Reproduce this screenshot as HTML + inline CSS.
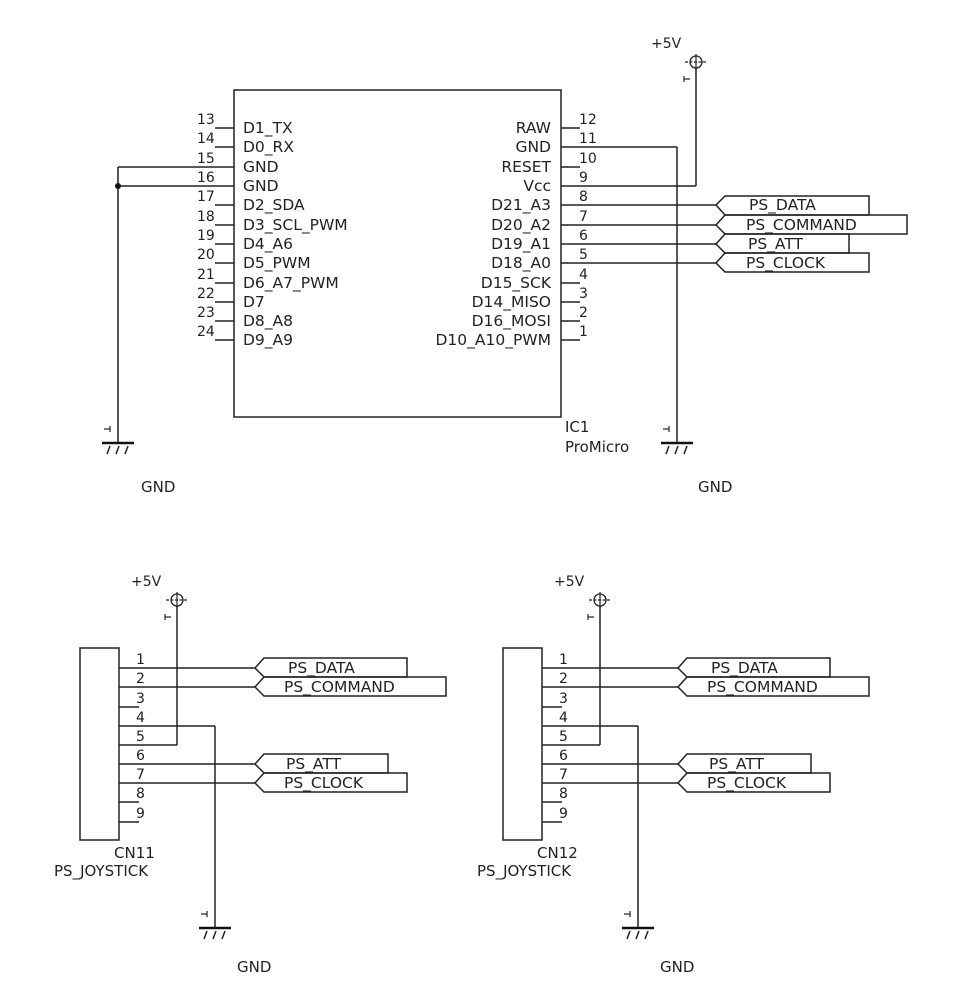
<!DOCTYPE html>
<html><head><meta charset="utf-8"><style>
html,body{margin:0;padding:0;background:#fff;}
svg{display:block;}
text{font-family:"DejaVu Sans","Liberation Sans",sans-serif;font-size:15.5px;fill:#222;}
.n{font-size:14px;}
.m{font-size:15px;}
</style></head><body>
<svg width="954" height="988" viewBox="0 0 954 988" xmlns="http://www.w3.org/2000/svg">
<defs>
<g id="gnd">
<line x1="0" y1="-12" x2="0" y2="0" stroke="#222" stroke-width="1.5"/>
<line x1="-16" y1="0" x2="16" y2="0" stroke="#111" stroke-width="2.5"/>
<path d="M-8,3 L-11,11 M1,3 L-2,11 M10,3 L7,11" stroke="#222" stroke-width="1.5" fill="none"/>
<line x1="-14" y1="-14" x2="-8" y2="-14" stroke="#333" stroke-width="1.3"/>
<line x1="-8" y1="-17" x2="-8" y2="-11" stroke="#333" stroke-width="1.3"/>
</g>
<g id="vcc">
<circle cx="0" cy="0" r="6" fill="none" stroke="#222" stroke-width="1.3"/>
<line x1="-11" y1="0" x2="11" y2="0" stroke="#222" stroke-width="1.2" stroke-dasharray="3,1.5"/>
<line x1="0" y1="-8" x2="0" y2="8" stroke="#222" stroke-width="1.2"/>
<line x1="-12" y1="17" x2="-6" y2="17" stroke="#333" stroke-width="1.3"/>
<line x1="-12" y1="14" x2="-12" y2="20" stroke="#333" stroke-width="1.3"/>
</g>
</defs>
<g stroke="#222" stroke-width="1.5" fill="none">
<rect x="234" y="90" width="327" height="327"/>
<path d="M215,128H234 M215,147H234 M118,167H234 M118,186H234 M215,205H234 M215,225H234 M215,244H234 M215,263H234 M215,283H234 M215,302H234 M215,321H234 M215,340H234"/>
<path d="M118,167V431"/>
<path d="M561,128H580 M561,147H677 M561,167H580 M561,186H696 M561,205H716 M561,225H716 M561,244H716 M561,263H716 M561,283H580 M561,302H580 M561,321H580 M561,340H580"/>
<path d="M677,147V431 M696,68V186"/>
<path d="M716,205L725,196H869V215H725Z"/>
<path d="M716,225L725,215H907V234H725Z"/>
<path d="M716,244L725,234H849V253H725Z"/>
<path d="M716,263L725,253H869V272H725Z"/>
</g>
<circle cx="118" cy="186" r="3" fill="#111"/>
<use href="#gnd" x="118" y="443"/>
<use href="#gnd" x="677" y="443"/>
<use href="#vcc" x="696" y="62"/>
<text class="n" x="651" y="48">+5V</text>
<text class="m" x="141" y="492">GND</text>
<text class="m" x="698" y="492">GND</text>
<text class="m" x="565" y="432">IC1</text>
<text class="m" x="565" y="452">ProMicro</text>
<g>
<text x="243" y="133">D1_TX</text>
<text x="243" y="152">D0_RX</text>
<text x="243" y="172">GND</text>
<text x="243" y="191">GND</text>
<text x="243" y="210">D2_SDA</text>
<text x="243" y="230">D3_SCL_PWM</text>
<text x="243" y="249">D4_A6</text>
<text x="243" y="268">D5_PWM</text>
<text x="243" y="288">D6_A7_PWM</text>
<text x="243" y="307">D7</text>
<text x="243" y="326">D8_A8</text>
<text x="243" y="345">D9_A9</text>
</g>
<g>
<text class="n" x="197" y="124">13</text>
<text class="n" x="197" y="143">14</text>
<text class="n" x="197" y="163">15</text>
<text class="n" x="197" y="182">16</text>
<text class="n" x="197" y="201">17</text>
<text class="n" x="197" y="221">18</text>
<text class="n" x="197" y="240">19</text>
<text class="n" x="197" y="259">20</text>
<text class="n" x="197" y="279">21</text>
<text class="n" x="197" y="298">22</text>
<text class="n" x="197" y="317">23</text>
<text class="n" x="197" y="336">24</text>
</g>
<g text-anchor="end">
<text x="551" y="133">RAW</text>
<text x="551" y="152">GND</text>
<text x="551" y="172">RESET</text>
<text x="551" y="191">Vcc</text>
<text x="551" y="210">D21_A3</text>
<text x="551" y="230">D20_A2</text>
<text x="551" y="249">D19_A1</text>
<text x="551" y="268">D18_A0</text>
<text x="551" y="288">D15_SCK</text>
<text x="551" y="307">D14_MISO</text>
<text x="551" y="326">D16_MOSI</text>
<text x="551" y="345">D10_A10_PWM</text>
</g>
<text class="n" x="579" y="124">12</text>
<text class="n" x="579" y="143">11</text>
<text class="n" x="579" y="163">10</text>
<text class="n" x="579" y="182">9</text>
<text class="n" x="579" y="201">8</text>
<text class="n" x="579" y="221">7</text>
<text class="n" x="579" y="240">6</text>
<text class="n" x="579" y="259">5</text>
<text class="n" x="579" y="279">4</text>
<text class="n" x="579" y="298">3</text>
<text class="n" x="579" y="317">2</text>
<text class="n" x="579" y="336">1</text>
<text x="749" y="210">PS_DATA</text>
<text x="746" y="230">PS_COMMAND</text>
<text x="748" y="249">PS_ATT</text>
<text x="746" y="268">PS_CLOCK</text>

<g>
<g stroke="#222" stroke-width="1.5" fill="none">
<rect x="80" y="648" width="39" height="192"/>
<path d="M119,668H255 M119,687H255 M119,707H139 M119,726H215 M119,745H177 M119,764H255 M119,783H255 M119,802H139 M119,822H139"/>
<path d="M177,606V745 M215,726V916"/>
<path d="M255,668L264,658H407V677H264Z"/>
<path d="M255,687L264,677H446V696H264Z"/>
<path d="M255,764L264,754H388V773H264Z"/>
<path d="M255,783L264,773H407V792H264Z"/>
</g>
<use href="#gnd" x="215" y="928"/>
<use href="#vcc" x="177" y="600"/>
<text class="n" x="131" y="586">+5V</text>
<text class="m" x="237" y="972">GND</text>
<text class="m" x="114" y="858">CN11</text>
<text class="m" x="54" y="876">PS_JOYSTICK</text>
<text class="n" x="136" y="664">1</text>
<text class="n" x="136" y="683">2</text>
<text class="n" x="136" y="703">3</text>
<text class="n" x="136" y="722">4</text>
<text class="n" x="136" y="741">5</text>
<text class="n" x="136" y="760">6</text>
<text class="n" x="136" y="779">7</text>
<text class="n" x="136" y="798">8</text>
<text class="n" x="136" y="818">9</text>
<text x="288" y="673">PS_DATA</text>
<text x="284" y="692">PS_COMMAND</text>
<text x="286" y="769">PS_ATT</text>
<text x="284" y="788">PS_CLOCK</text>
</g>
<g transform="translate(423,0)">
<g stroke="#222" stroke-width="1.5" fill="none">
<rect x="80" y="648" width="39" height="192"/>
<path d="M119,668H255 M119,687H255 M119,707H139 M119,726H215 M119,745H177 M119,764H255 M119,783H255 M119,802H139 M119,822H139"/>
<path d="M177,606V745 M215,726V916"/>
<path d="M255,668L264,658H407V677H264Z"/>
<path d="M255,687L264,677H446V696H264Z"/>
<path d="M255,764L264,754H388V773H264Z"/>
<path d="M255,783L264,773H407V792H264Z"/>
</g>
<use href="#gnd" x="215" y="928"/>
<use href="#vcc" x="177" y="600"/>
<text class="n" x="131" y="586">+5V</text>
<text class="m" x="237" y="972">GND</text>
<text class="m" x="114" y="858">CN12</text>
<text class="m" x="54" y="876">PS_JOYSTICK</text>
<text class="n" x="136" y="664">1</text>
<text class="n" x="136" y="683">2</text>
<text class="n" x="136" y="703">3</text>
<text class="n" x="136" y="722">4</text>
<text class="n" x="136" y="741">5</text>
<text class="n" x="136" y="760">6</text>
<text class="n" x="136" y="779">7</text>
<text class="n" x="136" y="798">8</text>
<text class="n" x="136" y="818">9</text>
<text x="288" y="673">PS_DATA</text>
<text x="284" y="692">PS_COMMAND</text>
<text x="286" y="769">PS_ATT</text>
<text x="284" y="788">PS_CLOCK</text>
</g>
</svg>
</body></html>
